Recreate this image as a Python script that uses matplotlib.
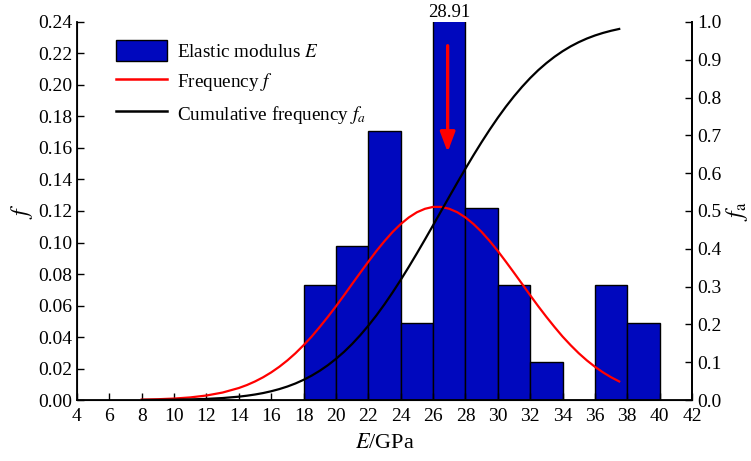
import matplotlib
matplotlib.use("Agg")
import matplotlib.pyplot as plt
from matplotlib.patches import Patch
from matplotlib.lines import Line2D

plt.rcParams['font.family'] = ['Liberation Serif', 'DejaVu Serif']
plt.rcParams['mathtext.fontset'] = 'stix'

# histogram of elastic modulus (bin left edges, width 2 GPa)
bin_left = [18, 20, 22, 24, 26, 28, 30, 32, 34, 36, 38]
bin_freq = [0.0732, 0.0976, 0.1707, 0.0488, 0.2439, 0.1220, 0.0732, 0.0244, 0.0, 0.0732, 0.0488]

# curves
curve_x = [8, 9, 10, 11, 12, 13, 14, 14.5, 15, 15.5, 16, 16.5, 17, 17.5,
           18, 18.5, 19, 19.5, 20, 20.5, 21, 21.5, 22, 22.5, 23, 23.5,
           24, 24.5, 25, 25.5, 26, 26.5, 27, 27.5, 28, 28.5, 29, 29.5,
           30, 30.5, 31, 31.5, 32, 32.5, 33, 33.5, 34, 34.5, 35, 35.5,
           36, 36.5, 37, 37.5]
freq_f = [0.00026, 0.0005, 0.00092, 0.00165, 0.00286, 0.00475, 0.00762, 0.00951,
          0.01178, 0.01444, 0.01754, 0.0211, 0.02515, 0.0297,
          0.0348, 0.0403, 0.0464, 0.0528, 0.0595, 0.0665, 0.0737, 0.0808,
          0.0878, 0.0946, 0.1009, 0.1067, 0.1117, 0.1159, 0.1192, 0.1214,
          0.1226, 0.1226, 0.1214, 0.1192, 0.1159, 0.1117, 0.1067, 0.1009,
          0.0946, 0.0878, 0.0808, 0.0737, 0.0665, 0.0595, 0.0528, 0.0464,
          0.0403, 0.0348, 0.0297, 0.02515, 0.0211, 0.01754, 0.01444, 0.01178]
cum_fa = [0.00022, 0.00045, 0.00087, 0.00164, 0.00297, 0.0052, 0.00885, 0.0114,
          0.01455, 0.0184, 0.0232, 0.0289, 0.0357, 0.0438,
          0.0534, 0.0645, 0.0774, 0.0921, 0.1088, 0.1274, 0.1483, 0.1714,
          0.1966, 0.2239, 0.2533, 0.2847, 0.3177, 0.3522, 0.3880, 0.4247,
          0.4622, 0.5000, 0.5378, 0.5753, 0.6120, 0.6478, 0.6823, 0.7153,
          0.7467, 0.7761, 0.8034, 0.8286, 0.8517, 0.8726, 0.8912, 0.9079,
          0.9226, 0.9355, 0.9466, 0.9562, 0.9643, 0.9711, 0.9768, 0.9816]

peak_label = "28.91"
peak_x = 26.9

bar_color = '#0008BE'

fig = plt.figure(figsize=(7.51, 4.61), dpi=100)
ax = fig.add_axes([0.1025, 0.1323, 0.819, 0.82])

ax.bar(bin_left, bin_freq, width=2, align='edge', color=bar_color,
       edgecolor='black', linewidth=1.0, zorder=1)
ax.plot(curve_x, freq_f, color='red', lw=1.6, zorder=3)

ax.set_xlim(4, 42)
ax.set_ylim(0, 0.24)
ax.set_xticks(range(4, 43, 2))
ax.set_yticks([i * 0.02 for i in range(13)])
ax.set_yticklabels(['%.2f' % (i * 0.02) for i in range(13)])
ax.tick_params(direction='in', length=5, width=1, labelsize=14)
ax.tick_params(axis='x', pad=6)
ax.spines['top'].set_visible(False)
for s in ['left', 'bottom', 'right']:
    ax.spines[s].set_linewidth(1.3)
ax.set_xlabel(r'$E$/GPa', fontsize=16, labelpad=6)
ax.set_ylabel(r'$f$', fontsize=17, labelpad=2)

ax2 = ax.twinx()
ax2.plot(curve_x, cum_fa, color='black', lw=1.6, zorder=3)
ax2.set_ylim(0, 1.0)
ax2.set_yticks([i / 10 for i in range(11)])
ax2.set_yticklabels(['%.1f' % (i / 10) for i in range(11)])
ax2.tick_params(direction='in', length=5, width=1, labelsize=14)
ax2.spines['top'].set_visible(False)
ax2.spines['right'].set_linewidth(1.3)
ax2.set_ylabel(r'$f_{\mathrm{a}}$', fontsize=17, labelpad=2)

ax.text(27, 0.2405, peak_label, ha='center', va='bottom', fontsize=13.5)
ax2.annotate('', xy=(peak_x, 0.1556 / 0.24), xytext=(peak_x, 0.2267 / 0.24),
             arrowprops=dict(arrowstyle='-|>,head_width=0.45,head_length=1.2',
                             color='red', lw=2.4), zorder=5)

handles = [Patch(facecolor=bar_color, edgecolor='black'),
           Line2D([], [], color='red', lw=1.8),
           Line2D([], [], color='black', lw=1.8)]
labels = [r'Elastic modulus $E$', r'Frequency $f$', r'Cumulative frequency $f_a$']
ax2.legend(handles, labels, loc='upper left', bbox_to_anchor=(0.036, 0.998),
           frameon=False, fontsize=13.8, handlelength=2.65, handleheight=1.3,
           labelspacing=0.5, handletextpad=0.5)

fig.savefig('out.png', dpi=100)
